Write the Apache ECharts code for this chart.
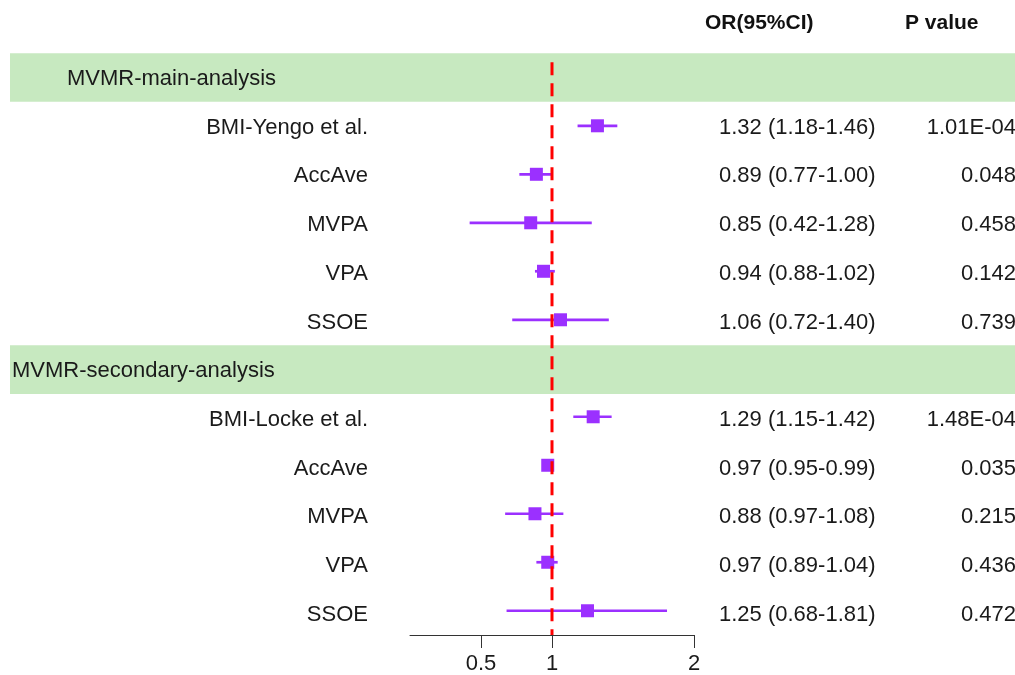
<!DOCTYPE html>
<html>
<head>
<meta charset="utf-8">
<script src="https://cdn.jsdelivr.net/npm/echarts@6/dist/echarts.min.js"></script>
<style>
html,body{margin:0;padding:0;background:#fff;}
#chart{width:1015px;height:675px;}
</style>
</head>
<body>
<div id="chart"></div>
<script>
// ---- data ----
const groups = ['MVMR-main-analysis', 'MVMR-secondary-analysis'];
const labels = ['BMI-Yengo et al.', 'AccAve', 'MVPA', 'VPA', 'SSOE',
                'BMI-Locke et al.', 'AccAve', 'MVPA', 'VPA', 'SSOE'];
const orValues = [1.32, 0.89, 0.85, 0.94, 1.06, 1.29, 0.97, 0.88, 0.97, 1.25];
const lowerCI  = [1.18, 0.77, 0.42, 0.88, 0.72, 1.15, 0.95, 0.67, 0.89, 0.68];
const upperCI  = [1.46, 1.00, 1.28, 1.02, 1.40, 1.42, 0.99, 1.08, 1.04, 1.81];
const orText = ['1.32 (1.18-1.46)', '0.89 (0.77-1.00)', '0.85 (0.42-1.28)', '0.94 (0.88-1.02)', '1.06 (0.72-1.40)',
                '1.29 (1.15-1.42)', '0.97 (0.95-0.99)', '0.88 (0.97-1.08)', '0.97 (0.89-1.04)', '1.25 (0.68-1.81)'];
const pText = ['1.01E-04', '0.048', '0.458', '0.142', '0.739',
               '1.48E-04', '0.035', '0.215', '0.436', '0.472'];
const xTicks = [0.5, 1, 2];
const refValue = 1;
const headers = ['OR(95%CI)', 'P value'];

// ---- layout ----
const FONT = 'Liberation Sans, Arial, sans-serif';
const FS = 22;
const groupRows = [1, 7];
const itemRows = [2, 3, 4, 5, 6, 8, 9, 10, 11, 12];
const Y_MIN = 0, Y_MAX = 12.5;
const gridTop = 28.8, gridBottom = 37.5;
const COL_LABEL = 368, COL_OR = 719, COL_P = 1016;
const groupLabelX = [67, 12];
const TEXT_DY = 1.5;

const chart = echarts.init(document.getElementById('chart'), null, {renderer: 'canvas'});

function yAxisCfg(gi) {
  return {gridIndex: gi, type: 'value', inverse: true, min: Y_MIN, max: Y_MAX, show: false};
}

const bandData = groupRows.map((r, i) => [r, groups[i], groupLabelX[i]]);
const textRows = itemRows.map((r, i) => [r, labels[i], orText[i], pText[i]]);
const ciData = itemRows.map((r, i) => [lowerCI[i], upperCI[i], orValues[i], r]);

const option = {
  animation: false,
  backgroundColor: '#ffffff',
  grid: [
    {left: 0, right: 0, top: gridTop, bottom: gridBottom},
    {left: 410, width: 284, top: gridTop, bottom: gridBottom}
  ],
  xAxis: [
    {gridIndex: 0, type: 'value', min: 0, max: 1015, show: false},
    {gridIndex: 1, type: 'value', min: 0, max: 2,
     axisLine: {show: true, onZero: false, lineStyle: {color: '#333333', width: 1}},
     axisTick: {show: true, length: 13, customValues: xTicks, lineStyle: {color: '#333333', width: 1}},
     axisLabel: {show: true, customValues: xTicks, margin: 18, color: '#1a1a1a', fontSize: FS, fontFamily: FONT,
                 formatter: v => String(v)},
     splitLine: {show: false}}
  ],
  yAxis: [yAxisCfg(0), yAxisCfg(1)],
  graphic: [
    {type: 'text', left: 705, top: 13, style: {text: headers[0], font: 'bold 21px ' + FONT, fill: '#111'}},
    {type: 'text', left: 905, top: 13, style: {text: headers[1], font: 'bold 21px ' + FONT, fill: '#111'}}
  ],
  series: [
    // green band rows
    {
      type: 'custom', xAxisIndex: 0, yAxisIndex: 0, data: bandData, z: 1,
      renderItem: function (params, api) {
        const r = api.value(0);
        const p0 = api.coord([10, r - 0.5]);
        const p1 = api.coord([1015, r + 0.5]);
        const lx = api.coord([api.value(2), r]);
        return {
          type: 'group',
          children: [
            {type: 'rect', shape: {x: p0[0], y: p0[1], width: p1[0] - p0[0], height: p1[1] - p0[1]},
             style: {fill: '#c7e9c0'}},
            {type: 'text', style: {text: bandData[params.dataIndex][1], x: lx[0], y: lx[1] + TEXT_DY,
              textVerticalAlign: 'middle', textAlign: 'left', font: FS + 'px ' + FONT, fill: '#1a1a1a'}}
          ]
        };
      }
    },
    // text columns
    {
      type: 'custom', xAxisIndex: 0, yAxisIndex: 0, data: textRows, z: 3,
      renderItem: function (params, api) {
        const r = api.value(0);
        const row = textRows[params.dataIndex];
        const y = api.coord([0, r])[1] + TEXT_DY;
        const mk = (t, x, align) => ({type: 'text', style: {text: t, x: api.coord([x, r])[0], y: y,
          textAlign: align, textVerticalAlign: 'middle', font: FS + 'px ' + FONT, fill: '#1a1a1a'}});
        return {type: 'group', children: [
          mk(row[1], COL_LABEL, 'right'),
          mk(row[2], COL_OR, 'left'),
          mk(row[3], COL_P, 'right')
        ]};
      }
    },
    // CI lines and squares
    {
      type: 'custom', xAxisIndex: 1, yAxisIndex: 1, data: ciData, z: 4, clip: false,
      renderItem: function (params, api) {
        const lo = api.coord([api.value(0), api.value(3)]);
        const hi = api.coord([api.value(1), api.value(3)]);
        const c = api.coord([api.value(2), api.value(3)]);
        const s = 13;
        return {type: 'group', children: [
          {type: 'line', shape: {x1: lo[0], y1: lo[1], x2: hi[0], y2: hi[1]},
           style: {stroke: '#9b30ff', lineWidth: 2.7}},
          {type: 'rect', shape: {x: c[0] - s / 2, y: c[1] - s / 2, width: s, height: s},
           style: {fill: '#9b30ff'}}
        ]};
      }
    },
    // reference dashed line at OR = 1 (drawn on top, as in the reference)
    {
      type: 'line', xAxisIndex: 1, yAxisIndex: 1, z: 6,
      data: [[refValue, 0.69], [refValue, Y_MAX]],
      symbol: 'none', silent: true,
      lineStyle: {color: '#ff0000', width: 3, type: [13, 8]}
    }
  ]
};
chart.setOption(option);
</script>
</body>
</html>
